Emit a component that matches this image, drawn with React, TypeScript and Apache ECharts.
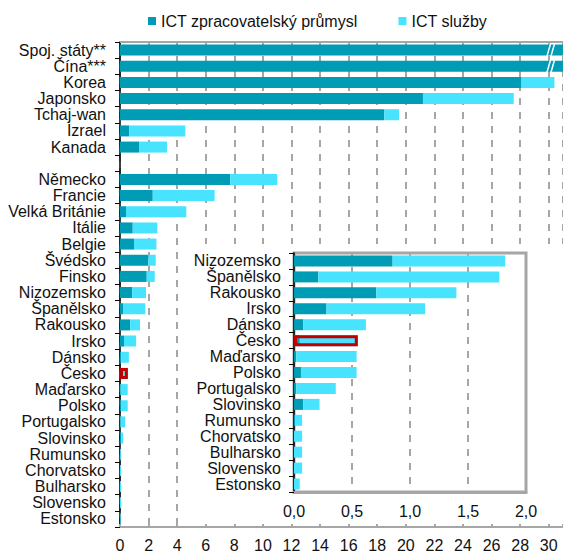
import React, { useEffect, useRef } from "react";
import * as echarts from "echarts";

const categories = [
  "Spoj. státy**", "Čína***", "Korea", "Japonsko", "Tchaj-wan", "Izrael", "Kanada", "",
  "Německo", "Francie", "Velká Británie", "Itálie", "Belgie", "Švédsko", "Finsko",
  "Nizozemsko", "Španělsko", "Rakousko", "Irsko", "Dánsko", "Česko", "Maďarsko", "Polsko",
  "Portugalsko", "Slovinsko", "Rumunsko", "Chorvatsko", "Bulharsko", "Slovensko", "Estonsko",
];

const manufacturing: (number | string)[] = [
  60, 45, 28.1, 21.2, 18.5, 0.65, 1.33, "-",
  7.72, 2.29, 0.42, 0.89, 0.98, 1.99, 1.87,
  0.85, 0.21, 0.71, 0.28, 0.08, 0.05, 0.02, 0.06,
  0.02, 0.08, 0.01, 0.0, 0.0, 0.0, 0.0,
];

const services: (number | string)[] = [
  8, 5, 2.3, 6.35, 1.03, 3.92, 1.96, "-",
  3.28, 4.33, 4.22, 1.72, 1.57, 0.51, 0.56,
  0.97, 1.56, 0.69, 0.85, 0.54, 0.5, 0.52, 0.48,
  0.34, 0.14, 0.06, 0.07, 0.07, 0.07, 0.05,
];

const mainTicks = [0, 31, 2];
const insetTicks = [0, 2, 0.5];
const highlighted = "Česko";
const insetFrom = "Nizozemsko";
const brokenBars = ["Spoj. státy**", "Čína***"];

const DARK = "#009BB4";
const LIGHT = "#47E3FF";
const RED = "#C00000";
const GRAY = "#a6a6a6";
const FONT = "Liberation Sans, Arial, sans-serif";
const FS = 16;

export default function App() {
  const ref = useRef<HTMLDivElement>(null);

  useEffect(() => {
    if (!ref.current) return;
    const chart = echarts.init(ref.current, undefined, { renderer: "svg" });

    const startIdx = categories.indexOf(insetFrom);
    const insetCats = categories.slice(startIdx);
    const insetMan = manufacturing.slice(startIdx);
    const insetSer = services.slice(startIdx);

    const total = (m: any, s: any) => (typeof m === "number" && typeof s === "number" ? m + s : 0);
    const hlMain = categories.map((c, i) => (c === highlighted ? total(manufacturing[i], services[i]) : "-"));
    const hlInset = insetCats.map((c, i) => (c === highlighted ? total(insetMan[i], insetSer[i]) : "-"));

    const option: any = {
      animation: false,
      textStyle: { fontFamily: FONT },
      legend: {
        top: 8,
        left: 143,
        itemGap: 41,
        itemWidth: 8,
        itemHeight: 8,
        icon: "rect",
        textStyle: { fontSize: FS, color: "#111", fontFamily: FONT },
        data: ["ICT zpracovatelský průmysl", "ICT služby"],
      },
      grid: [
        { left: 120, right: 0, top: 42, bottom: 27, outerBoundsMode: "none", containLabel: false },
        {
          left: 294, right: 37, top: 253, bottom: 62,
          show: true, borderColor: GRAY, borderWidth: 3, backgroundColor: "transparent", z: 4,
          outerBoundsMode: "none", containLabel: false,
        },
      ],
      xAxis: [
        {
          type: "value", gridIndex: 0, min: mainTicks[0], max: mainTicks[1], interval: mainTicks[2],
          axisLine: { show: true, lineStyle: { color: GRAY, width: 2 } },
          axisTick: { show: true, inside: true, length: 3, lineStyle: { color: GRAY, width: 2 } },
          axisLabel: {
            fontSize: FS, color: "#111", margin: 10, fontFamily: FONT,
            formatter: (v: number) => (v % 2 === 0 ? String(v) : ""),
          },
          splitLine: { show: true, lineStyle: { color: GRAY, width: 2, type: [7, 7] } },
        },
        {
          type: "value", gridIndex: 1, min: insetTicks[0], max: insetTicks[1], interval: insetTicks[2], z: 5,
          axisLine: { show: true, lineStyle: { color: GRAY, width: 3 } },
          axisTick: { show: false },
          axisLabel: {
            fontSize: FS, color: "#111", margin: 11, fontFamily: FONT,
            formatter: (v: number) => v.toFixed(1).replace(".", ","),
          },
          splitLine: { show: true, lineStyle: { color: GRAY, width: 2, type: [7, 7] } },
        },
        {
          type: "value", gridIndex: 0, position: "top", min: mainTicks[0], max: mainTicks[1],
          axisLine: { show: true, lineStyle: { color: GRAY, width: 2 } },
          axisTick: { show: false }, axisLabel: { show: false }, splitLine: { show: false },
        },
      ],
      yAxis: [
        {
          type: "category", gridIndex: 0, inverse: true, data: categories,
          axisLine: { show: true, lineStyle: { color: "#000", width: 1.5 } },
          axisTick: { show: true, length: 5, interval: 0, lineStyle: { color: "#000", width: 1 } },
          axisLabel: { fontSize: FS, lineHeight: 15, color: "#111", margin: 14, interval: 0, fontFamily: FONT },
        },
        {
          type: "category", gridIndex: 1, inverse: true, data: insetCats, z: 5,
          axisLine: { show: true, lineStyle: { color: "#000", width: 1.5 } },
          axisTick: { show: true, length: 5, interval: 0, lineStyle: { color: "#000", width: 1 } },
          axisLabel: { fontSize: FS, lineHeight: 15, color: "#111", margin: 13, interval: 0, fontFamily: FONT },
        },
      ],
      series: [
        {
          name: "ICT zpracovatelský průmysl", type: "bar", stack: "main", xAxisIndex: 0, yAxisIndex: 0,
          data: manufacturing, barWidth: 11, barGap: "-100%", itemStyle: { color: DARK },
        },
        {
          name: "ICT služby", type: "bar", stack: "main", xAxisIndex: 0, yAxisIndex: 0,
          data: services, barWidth: 11, barGap: "-100%", itemStyle: { color: LIGHT },
        },
        {
          name: "hl", type: "bar", xAxisIndex: 0, yAxisIndex: 0, data: hlMain, barWidth: 11, barGap: "-100%",
          itemStyle: { color: "rgba(0,0,0,0)", borderColor: RED, borderWidth: 3 }, z: 3,
        },
        {
          name: "ICT zpracovatelský průmysl", type: "bar", stack: "inset", xAxisIndex: 1, yAxisIndex: 1,
          data: insetMan, barWidth: 11, barGap: "-100%", itemStyle: { color: DARK }, z: 6,
        },
        {
          name: "ICT služby", type: "bar", stack: "inset", xAxisIndex: 1, yAxisIndex: 1,
          data: insetSer, barWidth: 11, barGap: "-100%", itemStyle: { color: LIGHT }, z: 6,
        },
        {
          name: "hl2", type: "bar", xAxisIndex: 1, yAxisIndex: 1, data: hlInset, barWidth: 11, barGap: "-100%",
          itemStyle: { color: "rgba(0,0,0,0)", borderColor: RED, borderWidth: 3 }, z: 7,
        },
      ],
    };
    chart.setOption(option);

    const graphics: any[] = [
      {
        type: "rect", id: "insetBg", z: 3, silent: true,
        shape: { x: 185, y: 244, width: 378, height: 280 },
        style: { fill: "#fff" },
      },
    ];
    const xb = chart.convertToPixel({ xAxisIndex: 0 } as any, 30) as any as number;
    brokenBars.forEach((c, k) => {
      const y = chart.convertToPixel({ yAxisIndex: 0 } as any, c) as any as number;
      [0, 4].forEach((dx, j) => {
        graphics.push({
          type: "line", id: `brk${k}_${j}`, z: 10, silent: true,
          shape: { x1: xb + dx - 2, y1: y + 7, x2: xb + dx + 2, y2: y - 7 },
          style: { stroke: "#fff", lineWidth: 1.5 },
        });
      });
    });
    chart.setOption({ graphic: graphics });

    return () => chart.dispose();
  }, []);

  return (
    <div
      ref={ref}
      style={{ position: "absolute", left: 0, top: 0, width: 563, height: 554, background: "#fff" }}
    />
  );
}
